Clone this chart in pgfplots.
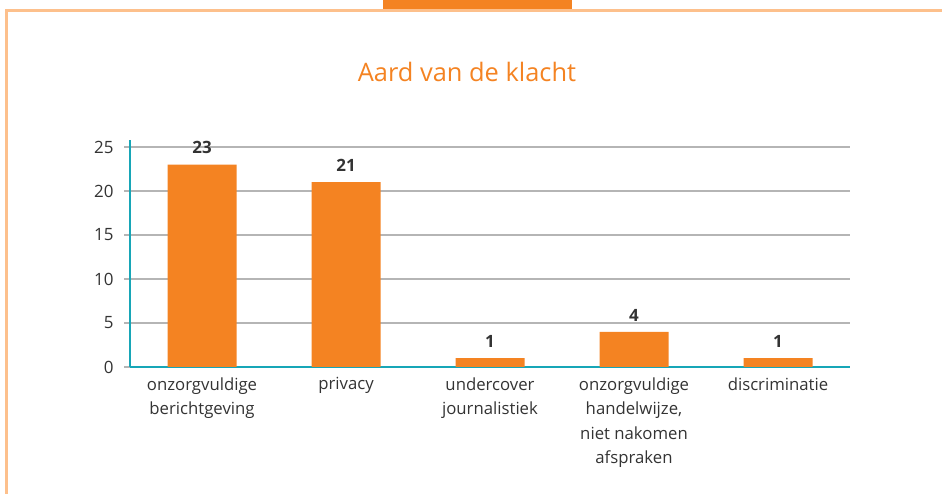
\documentclass[border=0pt]{standalone}
\usepackage{pgfplots}
\pgfplotsset{compat=1.18}
\usepackage{fontspec}
\setmainfont{Open Sans}
\definecolor{barorange}{HTML}{F48322}
\definecolor{frameorange}{HTML}{FDC08C}
\definecolor{axteal}{HTML}{17A6B7}
\definecolor{gridgray}{HTML}{B5B5B5}
\definecolor{txt}{HTML}{333333}
\begin{document}
\begin{tikzpicture}[x=1bp,y=1bp]
\path[use as bounding box] (0,0) rectangle (942,494);
% frame
\draw[frameorange, line width=3bp] (6,0) -- (6,483) -- (942,483);
\fill[barorange] (383,484.5) rectangle (572,494);
% title
\node[text=barorange, font=\fontsize{25.5}{30}\selectfont] at (467,422) {Aard van de klacht};
\begin{axis}[
  at={(130bp,127bp)}, anchor=south west,
  scale only axis, width=720bp, height=227bp,
  xmin=-0.5, xmax=4.5, ymin=0, ymax=25.8,
  axis x line*=bottom, axis y line*=left,
  axis line style={axteal, line width=2.5bp, -},
  ytick={0,5,10,15,20,25},
  xtick={0,1,2,3,4},
  xticklabels={{onzorgvuldige\\berichtgeving},{privacy},{undercover\\journalistiek},{onzorgvuldige\\handelwijze,\\niet nakomen\\afspraken},{discriminatie}},
  xticklabel style={align=center, text=txt, font=\fontsize{16.8}{24.5}\selectfont, anchor=north, yshift=-1bp},
  yticklabel style={text=txt, font=\fontsize{17}{20}\selectfont, xshift=-7bp},
  /pgf/number format/assume math mode=true,
  major x tick style={draw=none},
  major y tick style={gridgray, line width=1.2bp},
  tick align=outside,
  major tick length=6bp,
  ymajorgrids,
  major grid style={gridgray, line width=1.2bp},
  ybar, bar width=69bp,
  nodes near coords,
  every node near coord/.append style={font=\bfseries\fontsize{17}{20}\selectfont, text=txt, yshift=7bp},
  clip=false,
]
\addplot[fill=barorange, draw=none] coordinates {(0,23) (1,21) (2,1) (3,4) (4,1)};
\end{axis}
\end{tikzpicture}
\end{document}
